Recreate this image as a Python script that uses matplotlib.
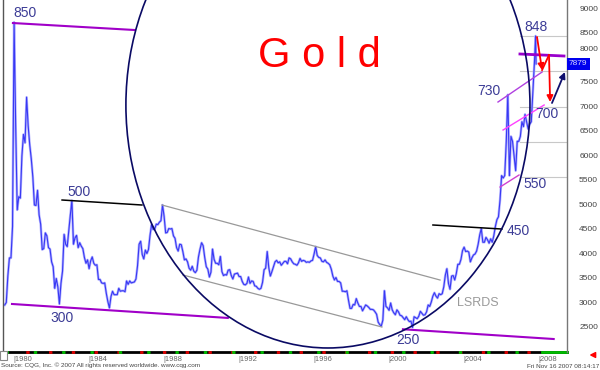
import numpy as np
import matplotlib
matplotlib.use('Agg')
import matplotlib.pyplot as plt
from matplotlib.patches import Ellipse, Rectangle

plt.rcParams['font.family'] = ['Liberation Sans', 'DejaVu Sans']

# ─── Data: COMEX gold, monthly, price x10 (chart units) ─────────────────────
START_YEAR = 1979
START_MONTH = 7
prices = [
    # 1979 Jul-Dec
    2960, 3010, 3550, 3920, 3920, 4560,
    # 1980
    8730, 6650, 4900, 5170, 5140, 6000, 6440, 6270, 7200, 6620, 6230, 5940,
    # 1981
    5570, 5000, 4990, 5300, 4800, 4610, 4090, 4110, 4430, 4370, 4130, 4100,
    # 1982
    3840, 3740, 3300, 3500, 3330, 2980, 3400, 3650, 4400, 4200, 4150, 4480,
    # 1983
    4800, 5090, 4200, 4330, 4380, 4130, 4230, 4160, 4110, 3930, 3810, 3880,
    # 1984
    3700, 3860, 3940, 3810, 3770, 3780, 3480, 3480, 3410, 3400, 3410, 3200,
    # 1985
    3030, 2900, 3130, 3240, 3170, 3170, 3170, 3300, 3240, 3250, 3250, 3230,
    # 1986
    3450, 3380, 3450, 3410, 3420, 3430, 3490, 3760, 4200, 4260, 3990, 3900,
    # 1987
    4080, 4010, 4090, 4380, 4600, 4500, 4510, 4610, 4600, 4650, 4680, 5000,
    # 1988
    4770, 4430, 4440, 4520, 4510, 4520, 4370, 4320, 4130, 4060, 4200, 4190,
    # 1989
    4050, 3880, 3900, 3840, 3710, 3670, 3750, 3650, 3620, 3670, 3940, 4100,
    # 1990
    4230, 4170, 3930, 3740, 3690, 3530, 3630, 4100, 3890, 3810, 3810, 3780,
    # 1991
    3950, 3640, 3560, 3580, 3570, 3670, 3680, 3560, 3490, 3590, 3600, 3610,
    # 1992
    3540, 3540, 3440, 3380, 3370, 3400, 3530, 3400, 3450, 3440, 3350, 3340,
    # 1993
    3300, 3280, 3300, 3420, 3680, 3710, 4050, 3720, 3550, 3640, 3740, 3840,
    # 1994
    3870, 3820, 3840, 3770, 3810, 3850, 3850, 3800, 3920, 3900, 3840, 3800,
    # 1995
    3790, 3770, 3820, 3910, 3850, 3870, 3860, 3830, 3840, 3830, 3860, 3870,
    # 1996
    4000, 4150, 3970, 3930, 3920, 3850, 3840, 3880, 3830, 3810, 3780, 3690,
    # 1997
    3550, 3470, 3520, 3440, 3440, 3410, 3240, 3240, 3230, 3250, 3060, 2890,
    # 1998
    2890, 2970, 2960, 3090, 3000, 2930, 2930, 2840, 2900, 2960, 2940, 2910,
    # 1999
    2870, 2870, 2860, 2820, 2770, 2610, 2560, 2530, 2650, 3250, 2930, 2900,
    # 2000
    2850, 3000, 2860, 2800, 2760, 2860, 2820, 2750, 2740, 2700, 2660, 2720,
    # 2001
    2660, 2620, 2630, 2500, 2720, 2700, 2680, 2730, 2830, 2790, 2750, 2760,
    # 2002
    2820, 2960, 2930, 3020, 3140, 3210, 3140, 3100, 3190, 3170, 3190, 3330,
    # 2003
    3570, 3700, 3400, 3280, 3550, 3560, 3470, 3600, 3790, 3790, 3890, 4070,
    # 2004
    4140, 4050, 4060, 4040, 3840, 3920, 3980, 4000, 4060, 4200, 4390, 4520,
    # 2005
    4240, 4240, 4340, 4290, 4220, 4310, 4240, 4370, 4560, 4700, 4760, 5100,
    # 2006
    5600, 5550, 5600, 6300, 7250, 5600, 6400, 6300, 6000, 5700, 6300, 6300,
    # 2007 Jan-Oct
    6400, 6700, 6600, 6850, 6700, 6550, 6650, 6700, 7300, 7900,
]
# November 2007: high of 848 then the last print
late_t = [2007.855, 2007.88]
late_p = [8450, 7879]

last_price = 7879
y_ticks = [2500, 3000, 3500, 4000, 4500, 5000, 5500, 6000, 6500, 7000, 7500, 8000, 8500, 9000]
x_years = [1980, 1984, 1988, 1992, 1996, 2000, 2004, 2008]
quarter_levels = [8455, 7735, 7006, 6292, 5578]

t = START_YEAR + (START_MONTH - 1 + np.arange(len(prices)) + 0.5) / 12.0
t = np.concatenate([t, late_t])
p = np.concatenate([prices, late_p])

# ─── Figure ──────────────────────────────────────────────────────────────────
fig = plt.figure(figsize=(6, 3.7), dpi=100)
ax = fig.add_axes([3 / 600, 18 / 370, 564 / 600, 352 / 370])
ax.set_xlim(1979.45, 2009.53)
ax.set_ylim(2000, 9184)

for s in ['top', 'bottom']:
    ax.spines[s].set_visible(False)
ax.spines['left'].set_color('#555555')
ax.spines['right'].set_color('#777777')
ax.spines['left'].set_linewidth(1.0)
ax.spines['right'].set_linewidth(1.0)

# quarter retracement grid at the right
for lv in quarter_levels:
    ax.plot([2007.0, 2009.53], [lv, lv], color='#c8c8c8', lw=0.8, zorder=1)

# price
ax.plot(t, p, color='#b4b4ff', lw=1.8, zorder=2)
ax.plot(t, p, color='#3838f4', lw=0.8, zorder=3)

# big circle
ax.add_patch(Ellipse((1996.78, 7041), 21.55, 9918, fill=False,
                     edgecolor='#0a0a64', lw=1.2, zorder=5))

TXT = '#3c3c96'
PURPLE = '#a000c8'

# long-term support / resistance
ax.plot([1979.98, 1986.49], [8714, 8571], color=PURPLE, lw=1.5, zorder=4)
ax.plot([1979.93, 1991.44], [2980, 2695], color=PURPLE, lw=1.5, zorder=4)
ax.plot([2000.78, 2008.82], [2464, 2265], color=PURPLE, lw=1.5, zorder=4)
ax.plot([1982.6, 1986.86], [5102, 5000], color='black', lw=1.1, zorder=4)
ax.plot([2002.38, 2006.06], [4592, 4510], color='black', lw=1.1, zorder=4)

# downtrend channel
ax.plot([1987.93, 2002.76], [5000, 3469], color='#999999', lw=0.9, zorder=4)
ax.plot([1989.05, 1999.66], [3571, 2510], color='#999999', lw=0.9, zorder=4)

# recent channel lines
ax.plot([2005.85, 2008.2], [7102, 7714], color='#b040e0', lw=1.0, zorder=4)
ax.plot([2006.12, 2008.31], [6531, 7041], color='#ff40ff', lw=1.0, zorder=4)
ax.plot([2005.96, 2006.97], [5367, 5612], color='#d040d0', lw=1.0, zorder=4)
ax.plot([2007.02, 2009.37], [8082, 8041], color='#9900cc', lw=2.0, zorder=4)

# arrows
ax.annotate('', xy=(2008.2, 7755), xytext=(2007.93, 8429),
            arrowprops=dict(arrowstyle='-|>', color='red', lw=1.3,
                            mutation_scale=9, shrinkA=0, shrinkB=0), zorder=6)
ax.plot([2008.2, 2008.57], [7755, 8061], color='red', lw=1.3, zorder=6)
ax.annotate('', xy=(2008.63, 7102), xytext=(2008.57, 8061),
            arrowprops=dict(arrowstyle='-|>', color='red', lw=1.3,
                            mutation_scale=9, shrinkA=0, shrinkB=0), zorder=6)
ax.annotate('', xy=(2009.42, 7714), xytext=(2008.73, 7082),
            arrowprops=dict(arrowstyle='-|>', color='#10106e', lw=1.3,
                            mutation_scale=9, shrinkA=0, shrinkB=0), zorder=6)

# labels
labels = [
    ('850', 1980.62, 8919), ('500', 1983.5, 5265), ('300', 1982.6, 2694),
    ('250', 2001.05, 2245), ('450', 2006.92, 4469), ('550', 2007.82, 5429),
    ('730', 2005.37, 7327), ('700', 2008.44, 6857), ('848', 2007.87, 8633),
]
for s, x, y in labels:
    ax.text(x, y, s, color=TXT, fontsize=10, ha='center', va='center', zorder=7)
ax.text(2004.78, 3000, 'LSRDS', color='#9a9a9a', fontsize=9, ha='center', va='center')
ax.text(1996.3, 8050, 'G o l d', color='#ff0000', fontsize=30, ha='center', va='center')

# right axis labels
ax.set_yticks([])
ax.set_xticks([])
for v in y_ticks:
    yy = v + 180 if v == 8000 else v
    ax.text(1.0 + 31 / 564, yy, str(v), transform=ax.get_yaxis_transform(),
            fontsize=6, color='#444444', ha='right', va='center')

# last price box
ax.text(1.0 + 2 / 564, last_price, str(last_price), transform=ax.get_yaxis_transform(),
        fontsize=6, color='#d8d8ff', ha='left', va='center',
        bbox=dict(boxstyle='square,pad=0.25', facecolor='#0000ee', edgecolor='none'))

# dashed time bar
ax.plot([0, 1], [0, 0], transform=ax.transAxes, color='black', lw=2, clip_on=False)
ax.plot([0, 0.955], [0, 0], transform=ax.transAxes, color='#dd0000', lw=2,
        dashes=(1.2, 7), clip_on=False)
ax.plot([0.004, 0.955], [0, 0], transform=ax.transAxes, color='#00bb00', lw=2,
        dashes=(1.2, 9), clip_on=False)
ax.plot([0.955, 1], [0, 0], transform=ax.transAxes, color='#00bb00', lw=2, clip_on=False)

for yr in x_years:
    ax.text(yr, -0.012, '|' + str(yr), transform=ax.get_xaxis_transform(),
            fontsize=5.5, color='#666666', ha='left', va='top')

fig.patches.append(Rectangle((0, 10 / 370), 7 / 600, 9 / 370, transform=fig.transFigure,
                             facecolor='white', edgecolor='#888888', lw=0.8))
fig.text(0.002, 5 / 370, 'Source: CQG, Inc. \u00a9 2007 All rights reserved worldwide. www.cqg.com',
         fontsize=4.6, color='#444444', ha='left', va='center')
fig.text(0.998, 4 / 370, 'Fri Nov 16 2007 08:14:17', fontsize=4.6, color='#444444',
         ha='right', va='center')
ax.annotate('', xy=(588 / 600, 15 / 370), xytext=(598 / 600, 15 / 370),
            xycoords='figure fraction',
            arrowprops=dict(arrowstyle='simple', color='red', mutation_scale=7))

fig.savefig('out.png', dpi=100)
